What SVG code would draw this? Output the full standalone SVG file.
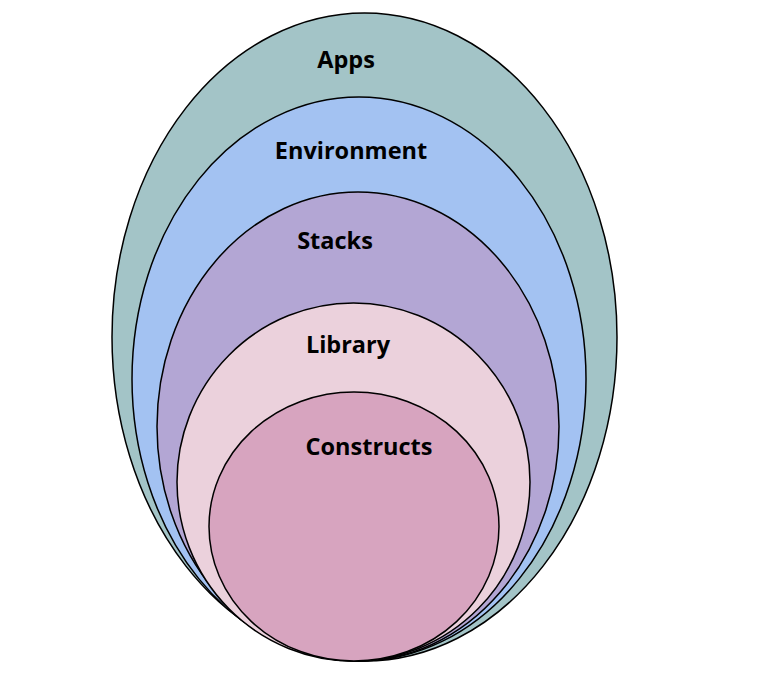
<svg xmlns="http://www.w3.org/2000/svg" width="775" height="675" viewBox="0 0 775 675">
<style>
.layer{stroke:#000;stroke-width:1.5}
.lbl{font-family:"Open Sans","Noto Sans","Liberation Sans",sans-serif;font-weight:bold;font-size:23.5px;fill:#000;text-anchor:middle}
</style>
<rect width="775" height="675" fill="#fff"/>
<g id="apps"><ellipse class="layer" cx="364.5" cy="337" rx="252.5" ry="324" fill="#a3c4c7"/><text class="lbl" x="346" y="68">Apps</text></g>
<g id="environment"><ellipse class="layer" cx="359" cy="379" rx="227" ry="282" fill="#a3c2f2"/><text class="lbl" x="351" y="159">Environment</text></g>
<g id="stacks"><ellipse class="layer" cx="358" cy="426.5" rx="201" ry="234.5" fill="#b3a6d4"/><text class="lbl" x="335" y="249">Stacks</text></g>
<g id="library"><ellipse class="layer" cx="353.5" cy="482" rx="176.5" ry="179" fill="#ebd1dc"/><text class="lbl" x="348" y="353">Library</text></g>
<g id="constructs"><ellipse class="layer" cx="354" cy="526.5" rx="145" ry="134.5" fill="#d7a4bf"/><text class="lbl" x="369" y="455">Constructs</text></g>
<g id="connectors"></g>
</svg>
